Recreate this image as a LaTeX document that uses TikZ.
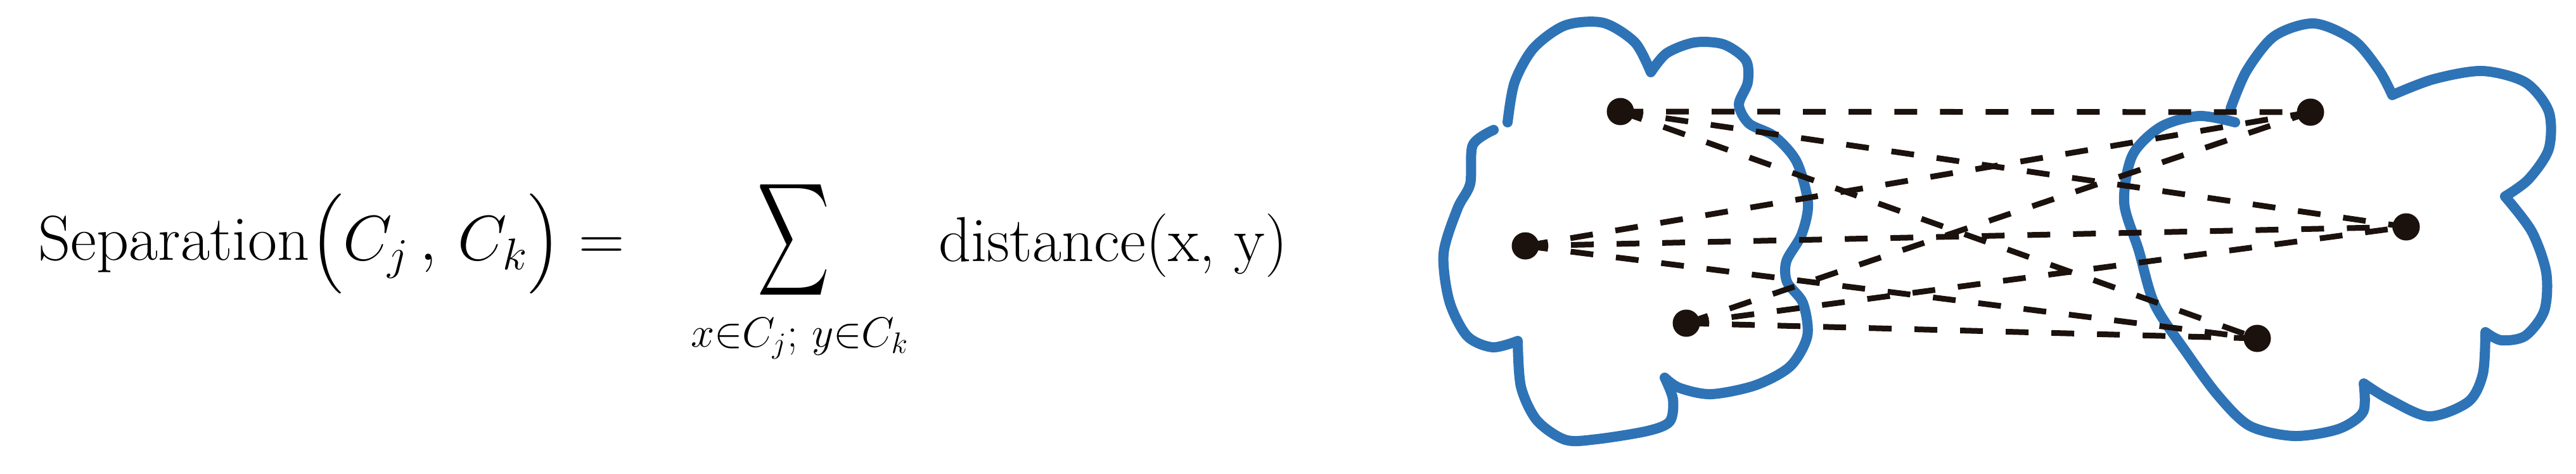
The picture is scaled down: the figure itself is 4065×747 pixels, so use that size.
\RequirePackage{fix-cm}
\documentclass[tikz,border=0pt]{standalone}
\usepackage{amsmath}
\usetikzlibrary{positioning}
\definecolor{cloudblue}{RGB}{46,115,182}
\definecolor{dotblack}{RGB}{27,17,13}

\begin{document}
\begin{tikzpicture}[x=0.01cm, y=-0.01cm,
    cloud/.style={draw=cloudblue, line width=0.16cm, line cap=round, line join=round},
    link/.style={draw=dotblack, line width=0.09cm, dash pattern=on 0.36cm off 0.36cm},
    point/.style={circle, fill=dotblack, minimum size=0.43cm, inner sep=0pt},
    eq/.style={inner sep=0pt, font=\fontsize{28.5}{34}\selectfont},
    sub/.style={inner sep=0pt, font=\fontsize{19}{23}\selectfont}]
    \useasboundingbox (0,0) rectangle (4065,747);

    % formula
    \node (lhs) [eq, anchor=base west] at (60,410) {Separation$\bigl(C_j\,,\,C_k\bigr) =$};
    \node (sum) [eq] at (1252,378) {\scalebox{0.9}[1.42]{$\displaystyle\sum$}};
    \node (range) [sub, anchor=base] at (1262,547) {$x{\in}C_j;\,y{\in}C_k$};
    \node (dist) [eq, anchor=base west] at (1481,412) {distance(x, y)};

    % cluster C_j
    \draw [cloud] plot [smooth] coordinates {(2379,193) (2390,130) (2420,76) (2470,40) (2530,36) (2580,67) (2605,114)}
        -- plot [smooth] coordinates {(2605,114) (2630,84) (2674,67) (2720,70) (2755,95) (2758,130) (2744,165) (2760,195) (2800,215) (2835,255) (2853,320) (2843,370) (2819,412) (2820,445) (2845,478) (2852,530) (2825,578) (2770,608) (2700,622) (2650,612) (2627,596)}
        -- plot [smooth] coordinates {(2627,596) (2640,630) (2635,665) (2600,680) (2520,693) (2470,694) (2425,663) (2400,610) (2395,538)}
        -- plot [smooth] coordinates {(2395,538) (2355,548) (2315,530) (2287,475) (2278,400) (2300,329) (2320,290) (2324,229) (2357,205)};

    % cluster C_k
    \draw [cloud] plot [smooth] coordinates {(3520,171) (3545,112) (3589,57) (3652,37) (3715,64) (3755,112) (3775,150)}
        -- plot [smooth] coordinates {(3775,150) (3840,125) (3917,112) (3985,130) (4022,176) (4022,235) (3990,283) (3953,310)}
        -- plot [smooth] coordinates {(3953,310) (3995,365) (4018,430) (4015,490) (3985,530) (3947,537) (3922,524)}
        -- plot [smooth] coordinates {(3922,524) (3918,590) (3895,634) (3833,657) (3770,630) (3730,605)}
        -- plot [smooth] coordinates {(3730,605) (3729,650) (3690,677) (3620,688) (3550,672) (3500,624) (3450,556) (3400,480) (3375,395) (3352,320) (3365,245) (3410,200) (3470,183) (3527,193)};

    \node (j1) [point] at (2557,176) {};
    \node (j2) [point] at (2407,388) {};
    \node (j3) [point] at (2661,510) {};
    \node (k1) [point] at (3646,177) {};
    \node (k2) [point] at (3797,358) {};
    \node (k3) [point] at (3562,534) {};

    \draw [link] (j1.center) -- (k1.center);
    \draw [link] (j1.center) -- (k2.center);
    \draw [link] (j1.center) -- (k3.center);
    \draw [link] (j2.center) -- (k1.center);
    \draw [link] (j2.center) -- (k2.center);
    \draw [link] (j2.center) -- (k3.center);
    \draw [link] (j3.center) -- (k1.center);
    \draw [link] (j3.center) -- (k2.center);
    \draw [link] (j3.center) -- (k3.center);
\end{tikzpicture}
\end{document}
